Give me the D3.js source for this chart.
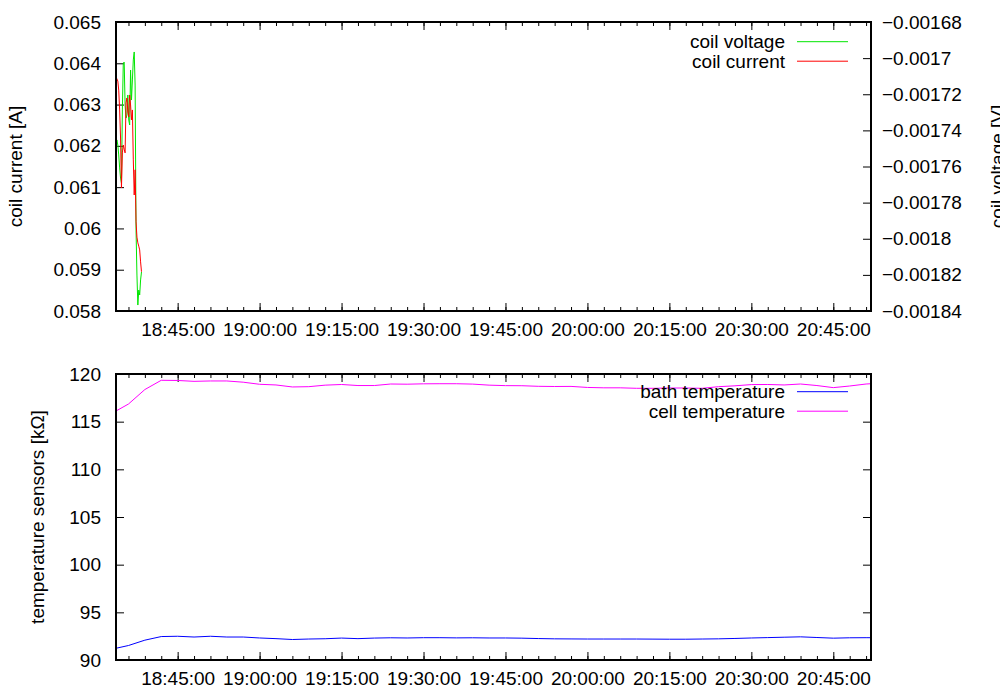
<!DOCTYPE html>
<html>
<head>
<meta charset="utf-8">
<script src="https://cdn.jsdelivr.net/npm/d3@7"></script>
<style>
  body { margin: 0; background: #fff; }
  svg { display: block; }
  text { font-family: "Liberation Sans", Arial, Helvetica, sans-serif; fill: #000; }
</style>
</head>
<body>
<svg id="chart" width="1000" height="700"></svg>
<script>
// ---------- data ----------
const timeRange = ["18:33:43", "20:51:54"];

const coilTimes = ["18:33:43","18:33:53","18:34:03","18:34:13","18:34:23","18:34:33","18:34:43","18:34:53",
  "18:35:03","18:35:13","18:35:23","18:35:33","18:35:43","18:35:53","18:36:03","18:36:13","18:36:23",
  "18:36:33","18:36:43","18:36:53","18:37:03","18:37:13","18:37:23","18:37:33","18:37:43","18:37:53",
  "18:38:03","18:38:13","18:38:23"];
const coilCurrent = [0.06367,0.06362,0.06357,0.06335,0.06287,0.06219,0.06098,0.06183,0.06202,0.06192,
  0.06183,0.06304,0.06316,0.06282,0.06270,0.06323,0.06299,0.06263,0.06287,0.06166,0.06081,0.06142,
  0.06016,0.05979,0.05965,0.05957,0.05948,0.05919,0.05895];
const coilVoltage = [-0.0017481,-0.0017453,-0.0017481,-0.0017536,-0.0017608,-0.0017664,-0.0017691,
  -0.0017287,-0.0017027,-0.0017022,-0.0017260,-0.0017332,-0.0017315,-0.0017204,-0.0017343,-0.0017370,
  -0.0017066,-0.0017232,-0.0017121,-0.0017010,-0.0016966,-0.0017149,-0.0017952,-0.0018201,-0.0018367,
  -0.0018284,-0.0018311,-0.0018228,-0.0018184];

const tempTimes = ["18:33:43","18:36:00","18:39:00","18:42:00","18:45:00","18:48:00","18:51:00","18:54:00",
  "18:57:00","19:00:00","19:03:00","19:06:00","19:09:00","19:12:00","19:15:00","19:18:00","19:21:00",
  "19:24:00","19:27:00","19:30:00","19:33:00","19:36:00","19:39:00","19:42:00","19:45:00","19:48:00",
  "19:51:00","19:54:00","19:57:00","20:00:00","20:03:00","20:06:00","20:09:00","20:12:00","20:15:00",
  "20:18:00","20:21:00","20:24:00","20:27:00","20:30:00","20:33:00","20:36:00","20:39:00","20:42:00",
  "20:45:00","20:48:00","20:51:00","20:51:54"];
const bathTemp = [91.23,91.52,92.08,92.46,92.49,92.41,92.49,92.41,92.41,92.31,92.24,92.15,92.20,92.23,
  92.30,92.24,92.30,92.33,92.31,92.34,92.34,92.32,92.33,92.31,92.31,92.29,92.25,92.22,92.21,92.20,
  92.20,92.20,92.20,92.19,92.18,92.18,92.20,92.22,92.26,92.31,92.35,92.39,92.43,92.36,92.29,92.33,
  92.34,92.34];
const cellTemp = [116.12,116.85,118.37,119.34,119.32,119.23,119.27,119.27,119.14,118.92,118.85,118.64,
  118.67,118.83,118.90,118.79,118.79,118.95,118.93,118.97,118.98,118.98,118.94,118.83,118.78,118.77,
  118.71,118.69,118.70,118.59,118.55,118.55,118.50,118.50,118.53,118.53,118.50,118.67,118.76,118.89,
  118.90,118.85,118.95,118.79,118.57,118.74,118.95,118.98];

const xMajorTicks = ["18:45:00","19:00:00","19:15:00","19:30:00","19:45:00","20:00:00","20:15:00","20:30:00","20:45:00"];
const currentTicks = [0.058,0.059,0.060,0.061,0.062,0.063,0.064,0.065];
const currentTickLabels = ["0.058","0.059","0.06","0.061","0.062","0.063","0.064","0.065"];
const voltageTicks = [-0.00184,-0.00182,-0.0018,-0.00178,-0.00176,-0.00174,-0.00172,-0.0017,-0.00168];
const voltageTickLabels = ["\u22120.00184","\u22120.00182","\u22120.0018","\u22120.00178","\u22120.00176","\u22120.00174","\u22120.00172","\u22120.0017","\u22120.00168"];
const tempTicks = [90,95,100,105,110,115,120];

const seriesTop = [
  { name: "coil voltage", color: "#00e600", values: coilVoltage, axis: "y2" },
  { name: "coil current", color: "#ff0000", values: coilCurrent, axis: "y" }
];
const seriesBottom = [
  { name: "bath temperature", color: "#0000ff", values: bathTemp },
  { name: "cell temperature", color: "#ff00ff", values: cellTemp }
];

// ---------- layout ----------
const FS = 19;
const L = 116, R = 871;
const top1 = 22, bot1 = 311;
const top2 = 374, bot2 = 660;
const parseT = d3.timeParse("%H:%M:%S");
const svg = d3.select("#chart");

const x = d3.scaleTime().domain(timeRange.map(parseT)).range([L, R]);
const yCur = d3.scaleLinear().domain([0.058, 0.065]).range([bot1, top1]);
const yVolt = d3.scaleLinear().domain([-0.00184, -0.00168]).range([bot1, top1]);
const yTemp = d3.scaleLinear().domain([90, 120]).range([bot2, top2]);

// minor x ticks every 3 minutes
const minorTicks = d3.timeMinute.every(3).range(parseT(timeRange[0]), parseT(timeRange[1]));
const majorDates = xMajorTicks.map(parseT);
const fmt = d3.timeFormat("%H:%M:%S");

function xAxes(yTop, yBot) {
  const gb = svg.append("g").attr("transform", `translate(0,${yBot})`)
    .call(d3.axisBottom(x).tickValues(majorDates).tickFormat(fmt).tickSizeInner(-8).tickSizeOuter(0).tickPadding(12));
  gb.selectAll("text").attr("font-size", FS);
  svg.append("g").attr("transform", `translate(0,${yBot})`)
    .call(d3.axisBottom(x).tickValues(minorTicks).tickFormat("").tickSizeInner(-4).tickSizeOuter(0));
  svg.append("g").attr("transform", `translate(0,${yTop})`)
    .call(d3.axisTop(x).tickValues(majorDates).tickFormat("").tickSizeInner(-8).tickSizeOuter(0));
  svg.append("g").attr("transform", `translate(0,${yTop})`)
    .call(d3.axisTop(x).tickValues(minorTicks).tickFormat("").tickSizeInner(-4).tickSizeOuter(0));
}

// ---------- top plot ----------
xAxes(top1, bot1);
const gl = svg.append("g").attr("transform", `translate(${L},0)`)
  .call(d3.axisLeft(yCur).tickValues(currentTicks).tickFormat((d, i) => currentTickLabels[i])
    .tickSizeInner(-8).tickSizeOuter(0).tickPadding(15));
gl.selectAll("text").attr("font-size", FS);
const gr = svg.append("g").attr("transform", `translate(${R},0)`)
  .call(d3.axisRight(yVolt).tickValues(voltageTicks).tickFormat((d, i) => voltageTickLabels[i])
    .tickSizeInner(-8).tickSizeOuter(0).tickPadding(11));
gr.selectAll("text").attr("font-size", FS);

const topTimes = coilTimes.map(parseT);
seriesTop.forEach(s => {
  const ys = s.axis === "y" ? yCur : yVolt;
  svg.append("path")
    .attr("d", d3.line().x((d, i) => x(topTimes[i])).y(d => ys(d))(s.values))
    .attr("fill", "none").attr("stroke", s.color).attr("stroke-width", 1);
});

// ---------- bottom plot ----------
xAxes(top2, bot2);
const gl2 = svg.append("g").attr("transform", `translate(${L},0)`)
  .call(d3.axisLeft(yTemp).tickValues(tempTicks).tickSizeInner(-8).tickSizeOuter(0).tickPadding(15));
gl2.selectAll("text").attr("font-size", FS);
svg.append("g").attr("transform", `translate(${R},0)`)
  .call(d3.axisRight(yTemp).tickValues(tempTicks).tickFormat("").tickSizeInner(-8).tickSizeOuter(0));

const tTimes = tempTimes.map(parseT);
seriesBottom.forEach(s => {
  svg.append("path")
    .attr("d", d3.line().x((d, i) => x(tTimes[i])).y(d => yTemp(d))(s.values))
    .attr("fill", "none").attr("stroke", s.color).attr("stroke-width", 1);
});

svg.selectAll(".domain").remove();
svg.selectAll(".tick line").attr("stroke", "#000").attr("stroke-width", 1);
[[top1, bot1], [top2, bot2]].forEach(([t, b]) => {
  svg.append("rect").attr("x", L).attr("y", t).attr("width", R - L).attr("height", b - t)
    .attr("fill", "none").attr("stroke", "#000").attr("stroke-width", 2);
});

// ---------- legends ----------
function legend(series, y0) {
  series.forEach((s, i) => {
    const yy = y0 + i * 19.5;
    svg.append("text").attr("x", 785).attr("y", yy).attr("dy", "0.35em")
      .attr("text-anchor", "end").attr("font-size", FS).text(s.name);
    svg.append("line").attr("x1", 797).attr("x2", 848).attr("y1", yy).attr("y2", yy)
      .attr("stroke", s.color).attr("stroke-width", 1);
  });
}
legend(seriesTop, 41.7);
legend(seriesBottom, 391.7);

// ---------- axis titles ----------
svg.append("text").attr("transform", `translate(22,${(top1 + bot1) / 2}) rotate(-90)`)
  .attr("text-anchor", "middle").attr("font-size", FS).text("coil current [A]");
svg.append("text").attr("transform", `translate(44,${(top2 + bot2) / 2}) rotate(-90)`)
  .attr("text-anchor", "middle").attr("font-size", FS).text("temperature sensors [kΩ]");
svg.append("text").attr("transform", `translate(1004,${(top1 + bot1) / 2}) rotate(-90)`)
  .attr("text-anchor", "middle").attr("font-size", FS).text("coil voltage [V]");
</script>
</body>
</html>
